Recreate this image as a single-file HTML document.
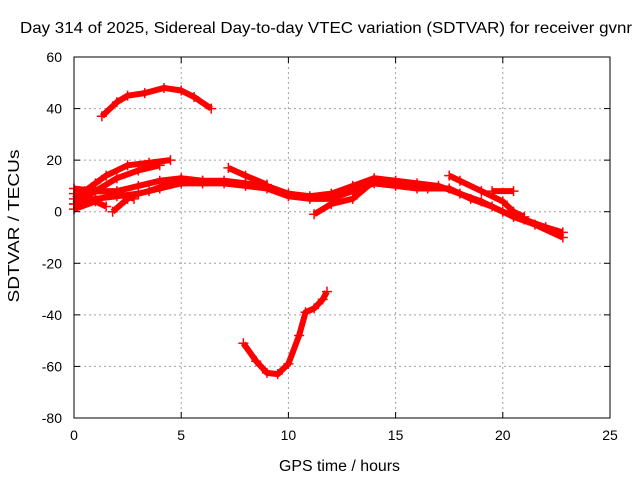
<!DOCTYPE html>
<html><head><meta charset="utf-8"><style>
body{margin:0;background:#fff;}
svg{display:block;font-family:"Liberation Sans",sans-serif;}
</style></head><body>
<svg id="chart" width="640" height="480" viewBox="0 0 640 480">
<text x="20" y="33" font-size="16" textLength="612" lengthAdjust="spacingAndGlyphs">Day 314 of 2025, Sidereal Day-to-day VTEC variation (SDTVAR) for receiver gvnr</text>
<text x="279" y="471" font-size="15.5" textLength="121" lengthAdjust="spacingAndGlyphs">GPS time / hours</text>
<text x="19" y="226" font-size="15.5" text-anchor="middle" textLength="153" lengthAdjust="spacingAndGlyphs" transform="rotate(-90 19 226)">SDTVAR / TECUs</text>
<g id="grid"></g><g id="marks"></g><g id="axes"></g>
</svg>
<script>
const xTicks=[0,5,10,15,20,25];
const yTicks=[60,40,20,0,-20,-40,-60,-80];
const arcTrack=[[1.3,37],[2,42.5],[2.5,45],[3.3,46],[4.2,48],[5,47],[5.6,44.5],[6.4,40]];
const jTrack=[[7.9,-51],[8.5,-58],[9,-62.5],[9.5,-63],[10,-59],[10.5,-48],[10.8,-39],[11.2,-37.5],[11.6,-34],[11.8,-31]];
const upperTrack=[[0,5],[0.5,8],[1,11],[1.5,14],[2.5,18],[3.5,19],[4.5,20]];
const upperTrack2=[[0,3],[1,8],[2,13],[3,16],[4,18]];
const mainTrack=[[0,7],[1,8],[2,8],[3,10],[4,12],[5,13],[6,12],[7,12],[8,11],[9,10],[10,7],[11,6],[12,7],[13,10],[14,13],[15,12],[16,11],[17,10],[18,7],[19,4],[20,0],[21,-3],[22,-6],[22.8,-8]];
const mainLower=[[0,3],[1,5],[2,6],[3,7],[4,9],[5,11],[6,11],[7,11],[8,10],[9,9],[10,6],[11,5],[12,5],[13,8],[14,11],[15,10],[16,9],[16.5,9],[17.5,9],[18.5,5],[19.5,2],[20.5,-2],[21.5,-5],[22.8,-10]];
const branchA=[[3.5,8],[4.5,11],[6,12]];
const branchB=[[7.2,17],[8,14],[9,10.5]];
const branchC=[[1.8,0],[2.5,5],[3,7]];
const branchD=[[0,1],[1,4],[1.5,2]];
const branchE=[[11.2,-1],[12,3],[13,5],[14,12]];
const branchF=[[17.5,14],[18,12],[19,8],[20,4],[20.5,0],[21,-2]];
const branchG=[[19.5,8],[20.5,8]];
const branchH=[[0,9],[1,8],[2,7.5],[2.8,5]];
const series=[arcTrack,jTrack,upperTrack,upperTrack2,mainTrack,mainLower,branchA,branchB,branchC,branchD,branchE,branchF,branchG,branchH];
const L=74,R=610,T=57,B=418;
const sx=v=>L+(v-0)/(25-0)*(R-L);
const sy=v=>B-(v-(-80))/(60-(-80))*(B-T);
const NS="http://www.w3.org/2000/svg";
function mk(tag,attrs,parent){const e=document.createElementNS(NS,tag);for(const k in attrs)e.setAttribute(k,attrs[k]);parent.appendChild(e);return e;}
const grid=document.getElementById('grid'),axes=document.getElementById('axes'),marks=document.getElementById('marks');
xTicks.forEach(t=>{
  if(t>0&&t<25){const g=mk('line',{x1:sx(t),x2:sx(t),y1:T,y2:B,stroke:'#a0a0a0','stroke-dasharray':'2,3'},grid);
  
  }
  const tx=mk('text',{x:sx(t),y:B+22,'font-size':14,'text-anchor':'middle'},axes);tx.textContent=t;
  
  
  mk('line',{x1:sx(t),x2:sx(t),y1:B,y2:B-6,stroke:'#000'},axes);
  mk('line',{x1:sx(t),x2:sx(t),y1:T,y2:T+6,stroke:'#000'},axes);
});
yTicks.forEach(t=>{
  if(t>-80&&t<60){const g=mk('line',{x1:L,x2:R,y1:sy(t),y2:sy(t),stroke:'#a0a0a0','stroke-dasharray':'2,3'},grid);
  
  }
  const tx=mk('text',{x:L-12,y:sy(t)+5,'font-size':14,'text-anchor':'end'},axes);tx.textContent=t;
  
  
  mk('line',{x1:L,x2:L+6,y1:sy(t),y2:sy(t),stroke:'#000'},axes);
  mk('line',{x1:R,x2:R-6,y1:sy(t),y2:sy(t),stroke:'#000'},axes);
});
const frame=mk('rect',{x:L,y:T,width:R-L,height:B-T,fill:'none',stroke:'#000'},axes);


series.forEach(s=>{
  const p=mk('polyline',{points:s.map(d=>sx(d[0])+','+sy(d[1])).join(' '),fill:'none',stroke:'#ff0000','stroke-width':6,'stroke-linejoin':'round'},marks);
  
  
  s.forEach(d=>{
    const x=sx(d[0]),y=sy(d[1]);
    const m=mk('path',{d:`M${x-5},${y}h10M${x},${y-5}v10`,stroke:'#ff0000','stroke-width':1.5},marks);
    
    
  });
});
</script>
</body></html>
